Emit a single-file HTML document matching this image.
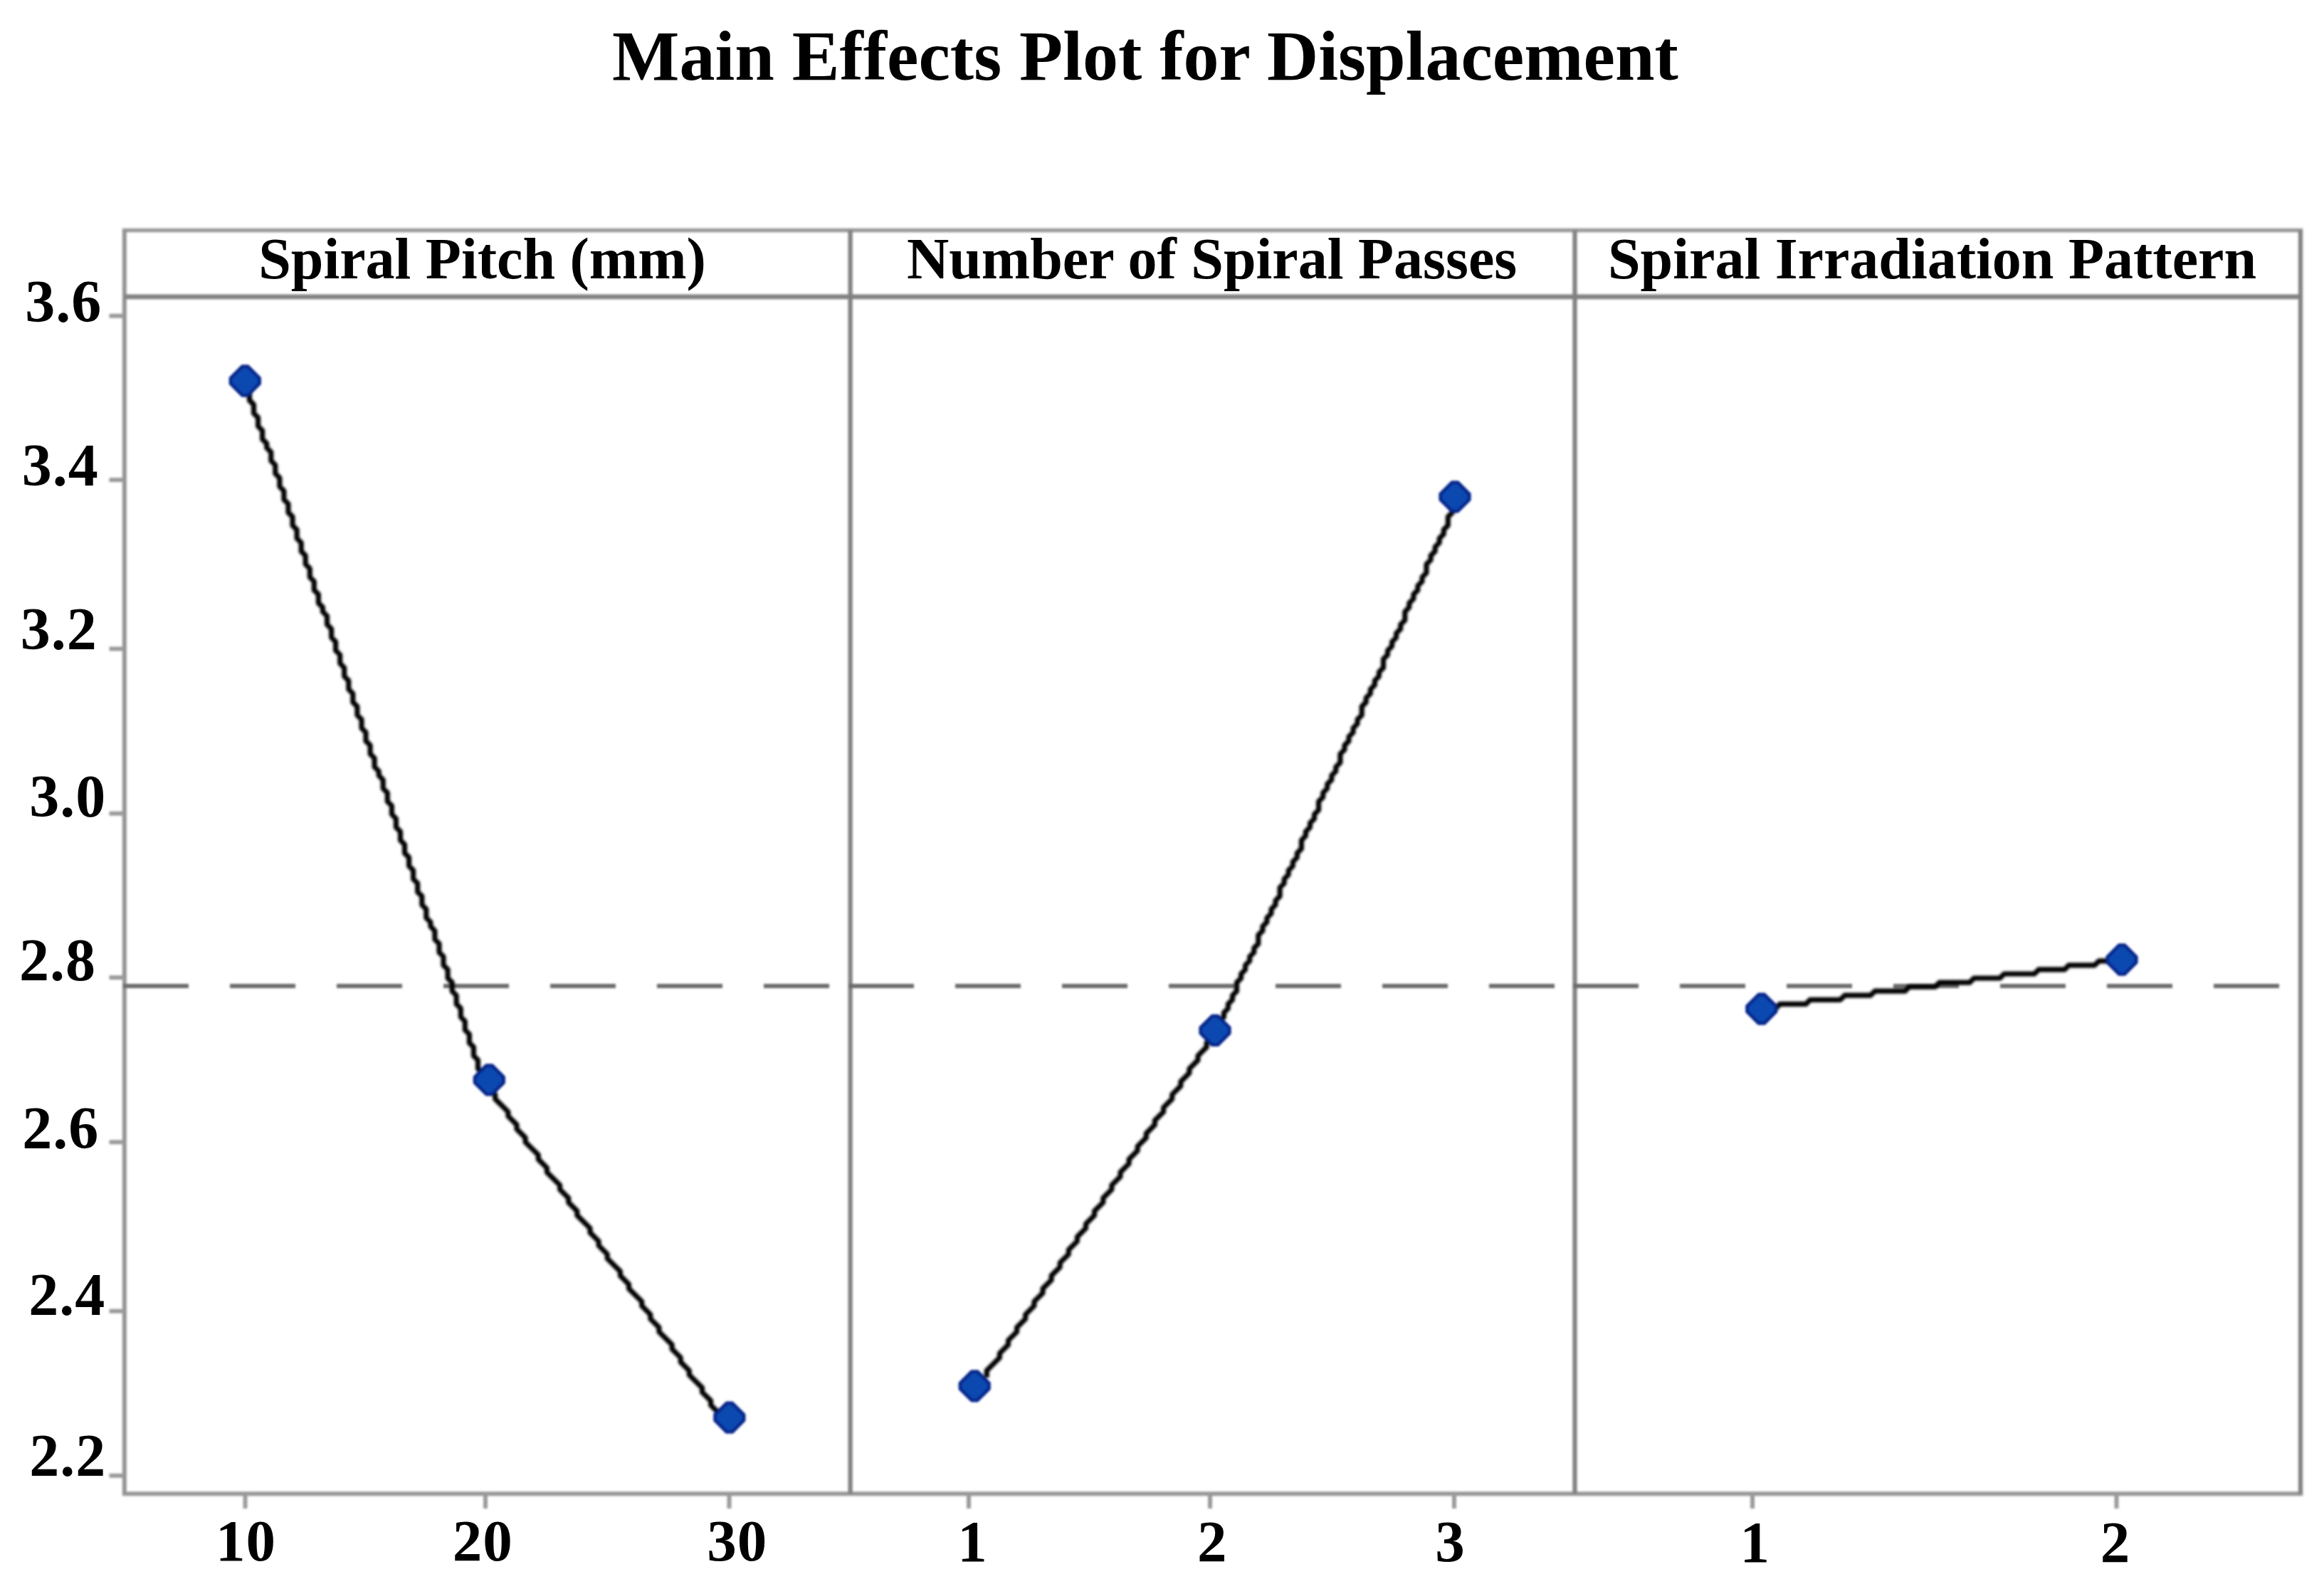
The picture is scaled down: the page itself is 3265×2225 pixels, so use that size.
<!DOCTYPE html>
<html>
<head>
<meta charset="utf-8">
<title>Main Effects Plot for Displacement</title>
<style>
  html, body { margin: 0; padding: 0; background: #ffffff; }
  body { width: 3265px; height: 2225px; overflow: hidden; }
  svg { display: block; }
  text { font-family: "Liberation Serif", serif; font-weight: bold; fill: #000000; }
  .title { font-size: 100px; }
  .hdr { font-size: 82px; }
  .tick { font-size: 83px; letter-spacing: 1px; }
  .ytick { font-size: 84px; }
  .frame { fill: none; stroke: #949494; stroke-width: 6; }
  .tk { stroke: #9a9a9a; stroke-width: 6; fill: none; }
  .ref { stroke: #6b6b6b; stroke-width: 6; fill: none; stroke-dasharray: 92 58; }
  .data { stroke: #000000; stroke-width: 7.2; fill: none; stroke-linecap: square; stroke-linejoin: round; filter: blur(1px); }
  .mk { fill: #0b49b0; stroke: #06258a; stroke-width: 4.5; stroke-linejoin: round; }
  .gfx { filter: blur(1.5px); }
  .txt { filter: blur(0.7px); }
</style>
</head>
<body>
<svg width="3265" height="2225" viewBox="0 0 3265 2225">
  <defs>
    <path id="m" d="M-4,-20.4 L4,-20.4 L20.4,-4 L20.4,4 L4,20.4 L-4,20.4 L-20.4,4 L-20.4,-4 Z"/>
  </defs>
  <rect x="0" y="0" width="3265" height="2225" fill="#ffffff"/>
  <g class="gfx">

  <!-- frame -->
  <line x1="171.85" y1="323.6" x2="3235.2" y2="323.6" stroke="#999999" stroke-width="5.5"/>
  <line x1="171.85" y1="2098.2" x2="3235.2" y2="2098.2" stroke="#979797" stroke-width="6"/>
  <line x1="174.85" y1="323.6" x2="174.85" y2="2098.2" stroke="#949494" stroke-width="6"/>
  <line x1="3232" y1="323.6" x2="3232" y2="2098.2" stroke="#848484" stroke-width="6.3"/>
  <line x1="174.85" y1="416.8" x2="3232" y2="416.8" stroke="#818181" stroke-width="6.8"/>
  <line x1="1194.6" y1="323.6" x2="1194.6" y2="2098.2" stroke="#828282" stroke-width="6.3"/>
  <line x1="2212.5" y1="323.6" x2="2212.5" y2="2098.2" stroke="#828282" stroke-width="6.3"/>

  <!-- y ticks -->
  <g class="tk">
    <line x1="153.5" y1="443.7" x2="175" y2="443.7"/>
    <line x1="153.5" y1="674.1" x2="175" y2="674.1"/>
    <line x1="153.5" y1="911.4" x2="175" y2="911.4"/>
    <line x1="153.5" y1="1142.7" x2="175" y2="1142.7"/>
    <line x1="153.5" y1="1373.1" x2="175" y2="1373.1"/>
    <line x1="153.5" y1="1604.3" x2="175" y2="1604.3"/>
    <line x1="153.5" y1="1841.7" x2="175" y2="1841.7"/>
    <line x1="153.5" y1="2072.8" x2="175" y2="2072.8"/>
  </g>
  <!-- x ticks -->
  <g class="tk">
    <line x1="344.5" y1="2098.3" x2="344.5" y2="2119"/>
    <line x1="682" y1="2098.3" x2="682" y2="2119"/>
    <line x1="1024.5" y1="2098.3" x2="1024.5" y2="2119"/>
    <line x1="1361" y1="2098.3" x2="1361" y2="2119"/>
    <line x1="1700" y1="2098.3" x2="1700" y2="2119"/>
    <line x1="2043" y1="2098.3" x2="2043" y2="2119"/>
    <line x1="2462" y1="2098.3" x2="2462" y2="2119"/>
    <line x1="2973.5" y1="2098.3" x2="2973.5" y2="2119"/>
  </g>

  <!-- reference dashed line -->
  <line class="ref" x1="173" y1="1385" x2="1192" y2="1385"/>
  <line class="ref" x1="1192" y1="1385" x2="2210" y2="1385"/>
  <line class="ref" x1="2210" y1="1385" x2="3230" y2="1385"/>

  <!-- data lines -->
  <polyline class="data" points="344.4,532.1 344.4,544.2 350.5,550.3 350.5,562.4 356.5,568.4 356.5,580.5 362.6,586.6 362.6,598.7 368.6,604.8 368.6,616.9 374.7,622.9 374.7,629.0 380.8,635.1 380.8,647.2 386.8,653.2 386.8,665.3 392.9,671.4 392.9,683.5 398.9,689.6 398.9,701.7 405.0,707.7 405.0,719.9 411.0,725.9 411.0,738.0 417.1,744.1 417.1,756.2 423.2,762.3 423.2,774.4 429.2,780.4 429.2,792.5 435.3,798.6 435.3,810.7 441.3,816.8 441.3,828.9 447.4,834.9 447.4,847.1 453.4,853.1 453.4,859.2 459.5,865.2 459.5,877.3 465.6,883.4 465.6,895.5 471.6,901.6 471.6,913.7 477.7,919.7 477.7,931.8 483.7,937.9 483.7,950.0 489.8,956.1 489.8,968.2 495.8,974.2 495.8,986.4 501.9,992.4 501.9,1004.5 508.0,1010.6 508.0,1022.7 514.0,1028.8 514.0,1040.9 520.1,1046.9 520.1,1059.0 526.1,1065.1 526.1,1077.2 532.2,1083.3 532.2,1089.3 538.2,1095.4 538.2,1107.5 544.3,1113.6 544.3,1125.7 550.4,1131.7 550.4,1143.8 556.4,1149.9 556.4,1162.0 562.5,1168.1 562.5,1180.2 568.5,1186.2 568.5,1198.4 574.6,1204.4 574.6,1216.5 580.6,1222.6 580.6,1234.7 586.7,1240.8 586.7,1252.9 592.8,1258.9 592.8,1271.0 598.8,1277.1 598.8,1289.2 604.9,1295.3 604.9,1301.3 610.9,1307.4 610.9,1319.5 617.0,1325.6 617.0,1337.7 623.0,1343.7 623.0,1355.8 629.1,1361.9 629.1,1374.0 635.2,1380.1 635.2,1392.2 641.2,1398.2 641.2,1410.4 647.3,1416.4 647.3,1428.5 653.3,1434.6 653.3,1446.7 659.4,1452.8 659.4,1464.9 665.4,1470.9 665.4,1483.0 671.5,1489.1 671.5,1501.2 677.6,1507.3 677.6,1519.4 683.6,1519.4 683.6,1525.4 695.7,1537.5 695.7,1543.6 713.9,1561.8 713.9,1567.8 726.0,1579.9 726.0,1586.0 738.1,1598.1 738.1,1604.2 756.3,1622.3 756.3,1628.4 768.4,1640.5 768.4,1646.6 786.6,1664.7 786.6,1670.8 798.7,1682.9 798.7,1689.0 810.8,1701.1 810.8,1707.1 829.0,1725.3 829.0,1731.4 841.1,1743.5 841.1,1749.5 853.2,1761.7 853.2,1767.7 871.4,1785.9 871.4,1791.9 883.5,1804.1 883.5,1810.1 901.7,1828.3 901.7,1834.3 913.8,1846.5 913.8,1852.5 925.9,1864.6 925.9,1870.7 944.1,1888.9 944.1,1894.9 956.2,1907.0 956.2,1913.1 968.3,1925.2 968.3,1931.3 986.5,1949.4 986.5,1955.5 998.6,1967.6 998.6,1973.7 1010.7,1985.8 1010.7,1991.8"/>
  <polyline class="data" points="1386.2,1931.3 1386.2,1925.2 1404.4,1907.0 1404.4,1901.0 1416.5,1888.9 1416.5,1882.8 1428.6,1870.7 1428.6,1864.6 1440.7,1852.5 1440.7,1846.5 1452.9,1834.3 1452.9,1828.3 1465.0,1816.2 1465.0,1810.1 1477.1,1798.0 1477.1,1791.9 1489.2,1779.8 1489.2,1773.8 1501.3,1761.7 1501.3,1755.6 1513.4,1743.5 1513.4,1737.4 1525.5,1725.3 1525.5,1719.3 1537.6,1707.1 1537.6,1701.1 1549.8,1689.0 1549.8,1682.9 1561.9,1670.8 1561.9,1664.7 1574.0,1652.6 1574.0,1646.6 1586.1,1634.5 1586.1,1628.4 1598.2,1616.3 1598.2,1610.2 1610.3,1598.1 1610.3,1592.1 1622.4,1579.9 1622.4,1573.9 1634.6,1561.8 1634.6,1555.7 1646.7,1543.6 1646.7,1537.5 1658.8,1525.4 1658.8,1519.4 1670.9,1507.3 1670.9,1501.2 1683.0,1489.1 1683.0,1483.0 1695.1,1470.9 1695.1,1464.9 1707.2,1452.8 1707.2,1446.7 1713.3,1440.6 1713.3,1434.6 1719.4,1428.5 1719.4,1422.5 1725.4,1416.4 1725.4,1410.4 1731.5,1404.3 1731.5,1398.2 1737.5,1392.2 1737.5,1380.1 1743.6,1374.0 1743.6,1368.0 1749.6,1361.9 1749.6,1355.8 1755.7,1349.8 1755.7,1343.7 1761.8,1337.7 1761.8,1331.6 1767.8,1325.6 1767.8,1313.4 1773.9,1307.4 1773.9,1301.3 1779.9,1295.3 1779.9,1289.2 1786.0,1283.2 1786.0,1277.1 1792.0,1271.0 1792.0,1265.0 1798.1,1258.9 1798.1,1246.8 1804.2,1240.8 1804.2,1234.7 1810.2,1228.6 1810.2,1222.6 1816.3,1216.5 1816.3,1210.5 1822.3,1204.4 1822.3,1198.4 1828.4,1192.3 1828.4,1180.2 1834.4,1174.1 1834.4,1168.1 1840.5,1162.0 1840.5,1156.0 1846.6,1149.9 1846.6,1143.8 1852.6,1137.8 1852.6,1125.7 1858.7,1119.6 1858.7,1113.6 1864.7,1107.5 1864.7,1101.4 1870.8,1095.4 1870.8,1089.3 1876.8,1083.3 1876.8,1077.2 1882.9,1071.2 1882.9,1059.0 1889.0,1053.0 1889.0,1046.9 1895.0,1040.9 1895.0,1034.8 1901.1,1028.8 1901.1,1022.7 1907.1,1016.6 1907.1,1010.6 1913.2,1004.5 1913.2,992.4 1919.2,986.4 1919.2,980.3 1925.3,974.2 1925.3,968.2 1931.4,962.1 1931.4,956.1 1937.4,950.0 1937.4,944.0 1943.5,937.9 1943.5,925.8 1949.5,919.7 1949.5,913.7 1955.6,907.6 1955.6,901.6 1961.6,895.5 1961.6,889.5 1967.7,883.4 1967.7,877.3 1973.8,871.3 1973.8,859.2 1979.8,853.1 1979.8,847.1 1985.9,841.0 1985.9,834.9 1991.9,828.9 1991.9,822.8 1998.0,816.8 1998.0,810.7 2004.0,804.7 2004.0,792.5 2010.1,786.5 2010.1,780.4 2016.2,774.4 2016.2,768.3 2022.2,762.3 2022.2,756.2 2028.3,750.1 2028.3,744.1 2034.3,738.0 2034.3,725.9 2040.4,719.9 2040.4,713.8 2046.4,707.7 2046.4,701.7 2052.5,695.6"/>
  <polyline class="data" points="2476.5,1416.4 2494.7,1416.4 2500.7,1410.4 2537.1,1410.4 2543.1,1404.3 2585.5,1404.3 2591.6,1398.2 2627.9,1398.2 2634.0,1392.2 2676.4,1392.2 2682.4,1386.1 2718.8,1386.1 2724.8,1380.1 2767.2,1380.1 2773.3,1374.0 2809.6,1374.0 2815.7,1368.0 2858.1,1368.0 2864.1,1361.9 2900.5,1361.9 2906.5,1355.8 2942.9,1355.8 2948.9,1349.8 2979.2,1349.8"/>

  <!-- markers -->
  <g class="mk">
    <use href="#m" x="344.3" y="535"/>
    <use href="#m" x="687.3" y="1516.8"/>
    <use href="#m" x="1024.8" y="1991.2"/>
    <use href="#m" x="1369.2" y="1946.8"/>
    <use href="#m" x="1707" y="1447.4"/>
    <use href="#m" x="2044" y="697.8"/>
    <use href="#m" x="2474.8" y="1417.2"/>
    <use href="#m" x="2981" y="1348"/>
  </g>

  </g>
  <g class="txt">
  <!-- title -->
  <text class="title" x="860" y="111.5">Main Effects Plot for Displacement</text>

  <!-- panel headers -->
  <text class="hdr" x="363.2" y="391">Spiral Pitch (mm)</text>
  <text class="hdr" x="1274" y="391">Number of Spiral Passes</text>
  <text class="hdr" x="2259" y="391">Spiral Irradiation Pattern</text>

  <!-- y tick labels -->
  <text class="tick ytick" x="35.2" y="451.6">3.6</text>
  <text class="tick ytick" x="30.7" y="681.5">3.4</text>
  <text class="tick ytick" x="28.85" y="912">3.2</text>
  <text class="tick ytick" x="41.15" y="1147">3.0</text>
  <text class="tick ytick" x="26.9" y="1377">2.8</text>
  <text class="tick ytick" x="31.3" y="1613.1">2.6</text>
  <text class="tick ytick" x="40.15" y="1846.6">2.4</text>
  <text class="tick ytick" x="41.15" y="2072.5">2.2</text>

  <!-- x tick labels -->
  <text class="tick" x="302.9" y="2192.4">10</text>
  <text class="tick" x="635.85" y="2192.4">20</text>
  <text class="tick" x="993.3" y="2192.4">30</text>
  <text class="tick" x="1345.35" y="2192.9">1</text>
  <text class="tick" x="1682" y="2192.9">2</text>
  <text class="tick" x="2016.25" y="2192.9">3</text>
  <text class="tick" x="2444.4" y="2194.2">1</text>
  <text class="tick" x="2950.85" y="2194.2">2</text>
  </g>
</svg>
</body>
</html>
